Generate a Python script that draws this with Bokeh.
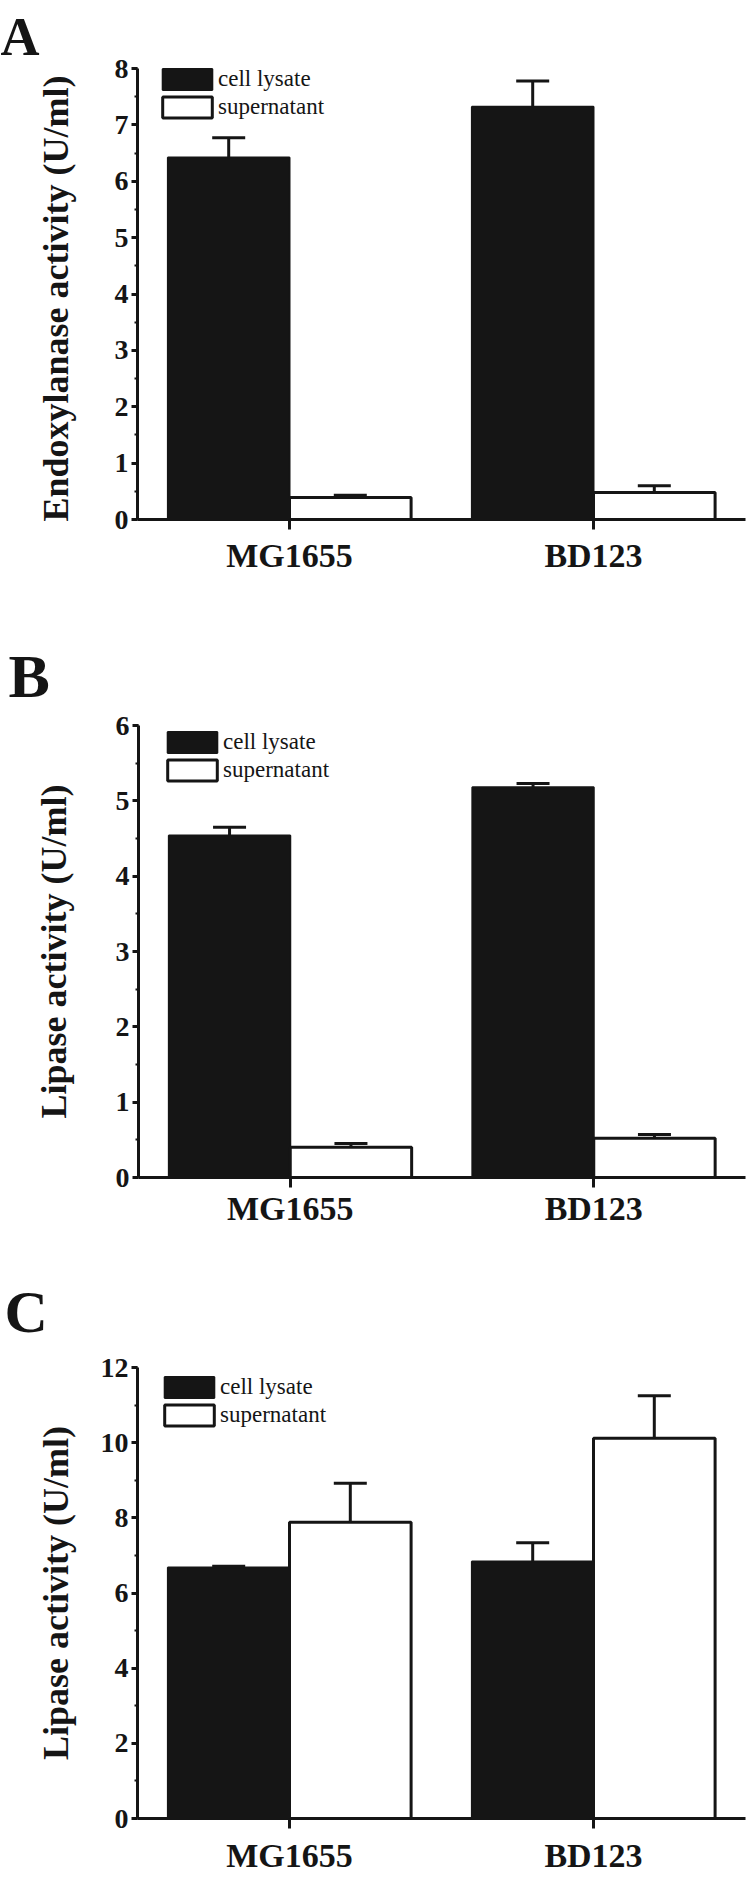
from bokeh.plotting import figure
from bokeh.models import (Range1d, SingleIntervalTicker, FixedTicker, Whisker, TeeHead,
                          ColumnDataSource, Label, Legend, LegendItem)
from bokeh.layouts import column
from bokeh.embed import file_html
from bokeh.resources import INLINE

# ---------------- data ----------------
strains = ["MG1655", "BD123"]
series = ["cell lysate", "supernatant"]

a_lysate = [6.42, 7.32]
a_lysate_err = [0.35, 0.46]
a_super = [0.39, 0.48]
a_super_err = [0.04, 0.12]

b_lysate = [4.54, 5.18]
b_lysate_err = [0.11, 0.05]
b_super = [0.40, 0.52]
b_super_err = [0.05, 0.05]

c_lysate = [6.68, 6.84]
c_lysate_err = [0.03, 0.50]
c_super = [7.88, 10.12]
c_super_err = [1.04, 1.13]

panel_letters = ["A", "B", "C"]
y_labels = ["Endoxylanase  activity (U/ml)", "Lipase activity (U/ml)", "Lipase activity (U/ml)"]
y_max = [8, 6, 12]
y_step = [1, 1, 2]

# ---------------- style / layout (pixels, local to each panel) ----------------
INK = "#151515"
FONT = "Liberation Serif"
W = 750
BAR_W = 0.4
GLYPH_W = 62     # legend glyph area; Bokeh insets the swatch by 10% per side
GLYPH_H = 26

layouts = [
    dict(H=620, ax_left=137, ax_right=745, ax_top=68, ax_bottom=519,
         letter_x=0, letter_base=36, letter_size="54px",
         box_x=162, box_top=69, xs=7, ys=36),
    dict(H=640, ax_left=138, ax_right=745, ax_top=105, ax_bottom=557,
         letter_x=8, letter_base=55, letter_size="62px",
         box_x=167, box_top=112, xs=2, ys=39),
    dict(H=618, ax_left=137, ax_right=745, ax_top=107, ax_bottom=558,
         letter_x=4, letter_base=51, letter_size="60px",
         box_x=164, box_top=117, xs=8, ys=22),
]


def make_panel(letter, ylabel, lys, lys_err, sup, sup_err, ymax, ystep, lay):
    n = len(strains)
    centers = [i + 0.5 for i in range(n)]
    src = ColumnDataSource(dict(
        x_lys=[c - BAR_W / 2 for c in centers],
        x_sup=[c + BAR_W / 2 for c in centers],
        lys=lys,
        sup=sup,
        lys_up=[v + e for v, e in zip(lys, lys_err)],
        sup_up=[v + e for v, e in zip(sup, sup_err)],
    ))

    H = lay["H"]
    kx = (lay["ax_right"] - lay["ax_left"]) / n
    ky = (lay["ax_bottom"] - lay["ax_top"]) / ymax
    x_rng = Range1d(-lay["ax_left"] / kx, n + (W - lay["ax_right"]) / kx)
    y_rng = Range1d(-(H - lay["ax_bottom"]) / ky, ymax + lay["ax_top"] / ky)

    p = figure(width=W, height=H, x_range=x_rng, y_range=y_rng,
               min_border_left=0, min_border_right=0, min_border_top=0, min_border_bottom=0,
               output_backend="svg", toolbar_location=None)
    p.xgrid.visible = False
    p.ygrid.visible = False
    p.outline_line_color = None
    p.background_fill_color = "white"
    p.border_fill_color = "white"

    r1 = p.vbar(x="x_lys", top="lys", width=BAR_W, source=src,
                fill_color=INK, line_color=INK, line_width=2)
    r2 = p.vbar(x="x_sup", top="sup", width=BAR_W, source=src,
                fill_color="white", line_color=INK, line_width=3)

    for base, lo, up in (("x_lys", "lys", "lys_up"), ("x_sup", "sup", "sup_up")):
        w = Whisker(base=base, lower=lo, upper=up, source=src,
                    line_color=INK, line_width=3, level="annotation",
                    upper_head=TeeHead(size=33, line_color=INK, line_width=3),
                    lower_head=None)
        p.add_layout(w)

    lx = int(round(lay["box_x"] - 0.1 * GLYPH_W))
    ly = int(round(H - 56 + (28 - GLYPH_H) / 2 + 0.1 * GLYPH_H - lay["box_top"]))
    legend = Legend(items=[LegendItem(label=series[0], renderers=[r1]),
                           LegendItem(label=series[1], renderers=[r2])],
                    location=(lx, ly),
                    border_line_color=None, background_fill_alpha=0,
                    padding=0, margin=0, spacing=0,
                    glyph_width=GLYPH_W, glyph_height=GLYPH_H, label_height=28,
                    label_standoff=0,
                    label_text_font=FONT, label_text_font_size="23px",
                    label_text_color=INK)
    p.add_layout(legend)

    xax = p.xaxis[0]
    yax = p.yaxis[0]
    for ax in (xax, yax):
        ax.fixed_location = 0
        ax.axis_line_width = 3
        ax.axis_line_color = INK
        ax.major_tick_line_width = 3
        ax.major_tick_line_color = INK
        ax.major_tick_in = 0
        ax.major_label_text_font = FONT
        ax.major_label_text_font_style = "bold"
        ax.major_label_text_color = INK

    xax.bounds = (0, n)
    xax.ticker = FixedTicker(ticks=centers, minor_ticks=[])
    xax.major_label_overrides = {float(c): s for c, s in zip(centers, strains)}
    xax.major_tick_out = 10
    xax.minor_tick_out = 0
    xax.major_label_standoff = lay["xs"]
    xax.major_label_text_font_size = "34px"

    yax.bounds = (0, ymax)
    yax.ticker = SingleIntervalTicker(interval=ystep, num_minor_ticks=2)
    yax.major_tick_out = 6
    yax.minor_tick_in = 0
    yax.minor_tick_out = 3
    yax.minor_tick_line_width = 2
    yax.minor_tick_line_color = INK
    yax.major_label_standoff = 3
    yax.major_label_text_font_size = "28px"
    yax.axis_label = ylabel
    yax.axis_label_standoff = lay["ys"]
    yax.axis_label_text_font = FONT
    yax.axis_label_text_font_size = "36px"
    yax.axis_label_text_font_style = "bold"
    yax.axis_label_text_color = INK

    p.add_layout(Label(x=(lay["letter_x"] - lay["ax_left"]) / kx,
                       y=ymax + (lay["ax_top"] - lay["letter_base"]) / ky,
                       text=letter, text_font=FONT, text_font_size=lay["letter_size"],
                       text_font_style="bold", text_color=INK,
                       text_align="left", text_baseline="alphabetic"))
    return p


pA = make_panel(panel_letters[0], y_labels[0], a_lysate, a_lysate_err, a_super, a_super_err,
                y_max[0], y_step[0], layouts[0])
pB = make_panel(panel_letters[1], y_labels[1], b_lysate, b_lysate_err, b_super, b_super_err,
                y_max[1], y_step[1], layouts[1])
pC = make_panel(panel_letters[2], y_labels[2], c_lysate, c_lysate_err, c_super, c_super_err,
                y_max[2], y_step[2], layouts[2])

page = column(pA, pB, pC)
open("out.html", "w").write(file_html(page, INLINE))
